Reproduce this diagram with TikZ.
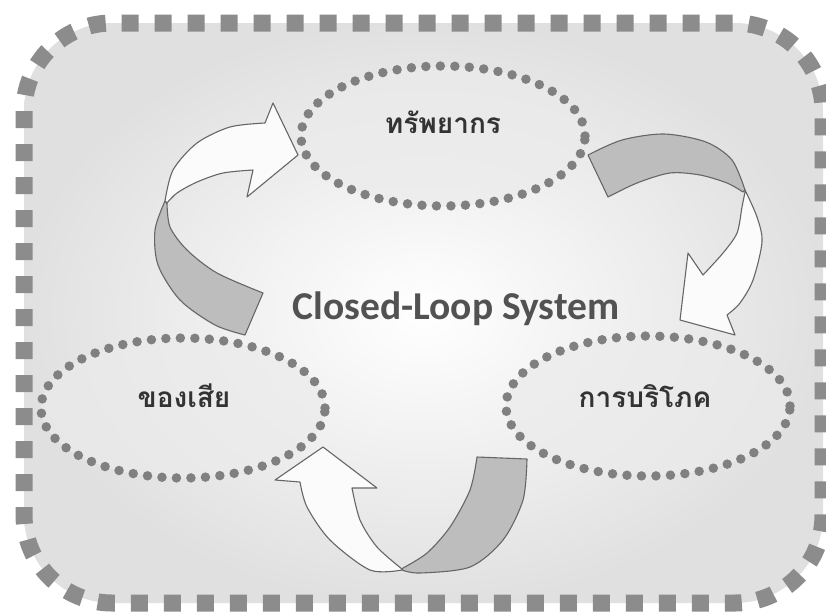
\documentclass[tikz,border=0pt]{standalone}
\usepackage{fontspec}
\setmainfont{Carlito}
\newfontfamily\thaifont[Script=Thai]{Loma}
\usetikzlibrary{shapes.geometric,positioning}
\tikzset{
    ring/.style={ellipse,draw=black!50,line width=9.5pt,line cap=round,dash pattern=on 0pt off 14.5pt,
                 fill=gray!16,fill opacity=0.7,draw opacity=1,minimum width=284pt,minimum height=140pt},
    thai/.style={font=\thaifont\bfseries\fontsize{28}{30}\selectfont,text=black!80},
    title/.style={font=\bfseries\fontsize{39.5}{42}\selectfont,text=black!68},
    band/.style={draw=black!60,line width=1.1pt,fill=gray!52,line join=round},
    sheet/.style={draw=black!60,line width=1.1pt,fill=white!97!gray,line join=round},
    frame/.style={draw=black!45,line width=17pt,dash pattern=on 17pt off 16pt,rounded corners=88pt}
}

\begin{document}
\begin{tikzpicture}[x=1pt,y=-1pt]

    \useasboundingbox (0,0) rectangle (826,611);

    % background
    \path[shade,inner color=white,outer color=gray!24,rounded corners=88pt] (24,23) rectangle (823,603);
    \path[frame] (24,23) rectangle (823,603);

    \node[ring] (res) at (443,136) {};
    \node[ring] (waste) at (183,408) {};
    \node[ring] (use) at (648,406) {};

    \node[thai] (resT)   at (443,122) {ทรัพยากร};
    \node[thai] (wasteT) at (184,396) {ของเสีย};
    \node[thai] (useT)   at (645,396) {การบริโภค};

    \node[title] (loop) at (456,309) {Closed-Loop System};

    % waste -> resources
    \draw[band] (165,201) -- plot[smooth] coordinates {(165,201) (155,230) (158,265) (180,300) (215,325) (245,335)}
        -- plot[smooth] coordinates {(263,293) (217,273) (187,250) (170,227) (167,203)} -- cycle;
    \draw[sheet] plot[smooth] coordinates {(165,201) (173,170) (197,143) (230,127) (265,123)}
        -- (273,103) -- (298,155) -- (247,197) -- (253,170)
        -- plot[smooth] coordinates {(253,170) (223,173) (197,182) (177,193) (167,203)} -- cycle;

    % resources -> consumption
    \draw[band] plot[smooth] coordinates {(588,155) (622,140) (664,134) (706,142) (732,160) (745,190)}
        -- plot[smooth] coordinates {(743,192) (727,183) (700,175) (670,173) (637,183) (608,197)} -- cycle;
    \draw[sheet] plot[smooth] coordinates {(745,190) (757,217) (762,242) (753,280) (740,303) (727,315)}
        -- (735,335) -- (680,320) -- (688,253) -- (703,275)
        -- plot[smooth] coordinates {(703,275) (723,253) (737,233) (742,207) (745,192)} -- cycle;

    % consumption -> waste
    \draw[band] (477,457) -- plot[smooth] coordinates {(527,459) (523,500) (503,540) (470,567) (420,573) (402,570)}
        -- plot[smooth] coordinates {(403,568) (427,553) (450,527) (470,490) (477,457)} -- cycle;
    \draw[sheet] plot[smooth] coordinates {(402,570) (370,570) (330,540) (307,507) (300,482)}
        -- (275,480) -- (323,447) -- (377,488) -- (352,488)
        -- plot[smooth] coordinates {(352,488) (360,520) (377,547) (402,569)} -- cycle;

\end{tikzpicture}
\end{document}
